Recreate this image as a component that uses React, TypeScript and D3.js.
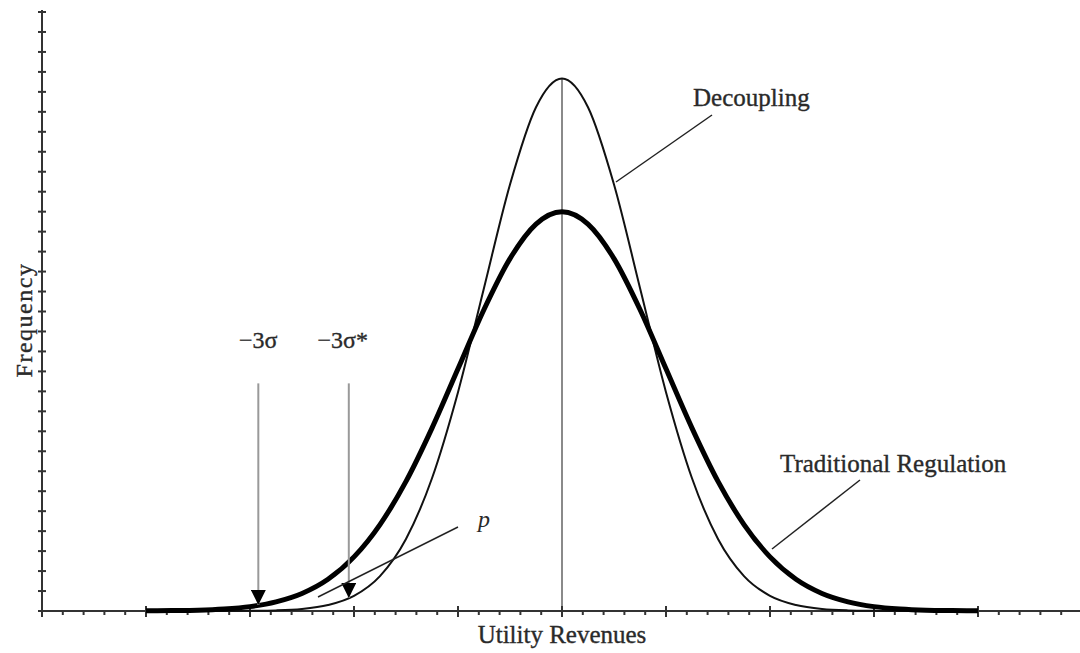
import React from "react";
import * as d3 from "d3";

// x positions (in standard units of the traditional-regulation distribution)
const xs = [-4, -3.75, -3.5, -3.25, -3, -2.75, -2.5, -2.25, -2, -1.75, -1.5, -1.25, -1, -0.75, -0.5, -0.25, 0,
  0.25, 0.5, 0.75, 1, 1.25, 1.5, 1.75, 2, 2.25, 2.5, 2.75, 3, 3.25, 3.5, 3.75, 4];

// Frequency (y-axis tick units)
const traditionalHalf = [20, 19.38, 17.65, 15.1, 12.13, 9.16, 6.49, 4.33, 2.71, 1.59, 0.88, 0.46, 0.22, 0.1, 0.04, 0.02, 0.01];
const decouplingHalf = [26.67, 25.23, 21.36, 16.18, 10.96, 6.65, 3.61, 1.75, 0.76, 0.3, 0.1, 0.03, 0.01, 0, 0, 0, 0];

const traditional = [...traditionalHalf.slice(1).reverse(), ...traditionalHalf];
const decoupling = [...decouplingHalf.slice(1).reverse(), ...decouplingHalf];

const xDomain = [-5, 5];
const yDomain = [0, 30];
const yTicks = d3.range(0, 31);
const xMinorTicks = d3.range(-25, 26).map((i) => i / 5);
const xMajorTicks = d3.range(-5, 6);

// annotation arrows: label, x, top y, tip y
const arrows = [
  { label: "\u22123\u03c3", x: -2.92, top: 11.4, tip: 0.3, dx: 0 },
  { label: "\u22123\u03c3*", x: -2.05, top: 11.4, tip: 0.65, dx: -6 },
];

export default function App() {
  const W = 1080, H = 653;
  const x = d3.scaleLinear().domain(xDomain).range([42, 1082]);
  const y = d3.scaleLinear().domain(yDomain).range([611, 12]);

  const line = d3
    .line<number>()
    .x((_, i) => x(xs[i]))
    .y((d) => y(d))
    .curve(d3.curveMonotoneX);

  const font = "'Liberation Serif', 'Times New Roman', serif";
  const txt = "#2a2a2a";
  const tStyle = { stroke: txt, strokeWidth: 0.35 };

  return (
    <svg width={W} height={H} style={{ position: "absolute", left: 0, top: 0, background: "#fff" }}>
      <defs>
        <marker id="ah" viewBox="0 0 10 10" refX="10" refY="5" markerWidth="15" markerHeight="15"
          markerUnits="userSpaceOnUse" orient="auto">
          <path d="M0,0 L10,5 L0,10 Z" fill="#000" />
        </marker>
      </defs>

      {/* center line */}
      <line x1={x(0)} x2={x(0)} y1={y(26.67)} y2={y(0)} stroke="#8a8a8a" strokeWidth={2} />

      {/* axes */}
      <line x1={x(-5)} x2={W} y1={y(0)} y2={y(0)} stroke="#333" strokeWidth={2} />
      <line x1={x(-5)} x2={x(-5)} y1={y(30) - 2} y2={y(0)} stroke="#333" strokeWidth={2} />
      {yTicks.map((t) => (
        <line key={"yt" + t} x1={x(-5) - 4} x2={x(-5) + 4} y1={y(t)} y2={y(t)} stroke="#333" strokeWidth={2} />
      ))}
      {xMinorTicks.map((t) => (
        <line key={"xm" + t} x1={x(t)} x2={x(t)} y1={y(0)} y2={y(0) + 4} stroke="#333" strokeWidth={2} />
      ))}
      {xMajorTicks.map((t) => (
        <line key={"xM" + t} x1={x(t)} x2={x(t)} y1={y(0) - 5} y2={y(0) + 6} stroke="#333" strokeWidth={2} />
      ))}

      {/* curves */}
      <path d={line(decoupling) || ""} fill="none" stroke="#111" strokeWidth={2} />
      <path d={line(traditional) || ""} fill="none" stroke="#000" strokeWidth={5} />

      {/* arrows */}
      {arrows.map((a) => (
        <g key={a.label}>
          <line x1={x(a.x)} x2={x(a.x)} y1={y(a.top)} y2={y(a.tip)} stroke="#999" strokeWidth={2}
            markerEnd="url(#ah)" />
          <text x={x(a.x) + a.dx} y={348} textAnchor="middle" fontFamily={font}
            fontSize={24} fill={txt} {...tStyle}>
            {a.label}
          </text>
        </g>
      ))}

      {/* p leader */}
      <line x1={318} x2={458} y1={597} y2={527} stroke="#222" strokeWidth={1.5} />
      <text x={478} y={527} fontFamily={font} fontStyle="italic" fontSize={24} fill={txt}>p</text>

      {/* Decoupling leader */}
      <line x1={616} x2={712} y1={182} y2={115} stroke="#222" strokeWidth={1.5} />
      <text x={693} y={106} fontFamily={font} fontSize={25} fill={txt} {...tStyle}>Decoupling</text>

      {/* Traditional leader */}
      <line x1={772} x2={860} y1={549} y2={480} stroke="#222" strokeWidth={1.5} />
      <text x={780} y={472} fontFamily={font} fontSize={25} fill={txt} {...tStyle}>Traditional Regulation</text>

      {/* axis titles */}
      <text x={x(0)} y={643} textAnchor="middle" fontFamily={font} fontSize={25} fill={txt} {...tStyle}>
        Utility Revenues
      </text>
      <text transform={`translate(32,320) rotate(-90)`} textAnchor="middle" fontFamily={font} fontSize={24}
        letterSpacing={1.5} fill={txt} {...tStyle}>Frequency</text>
    </svg>
  );
}
